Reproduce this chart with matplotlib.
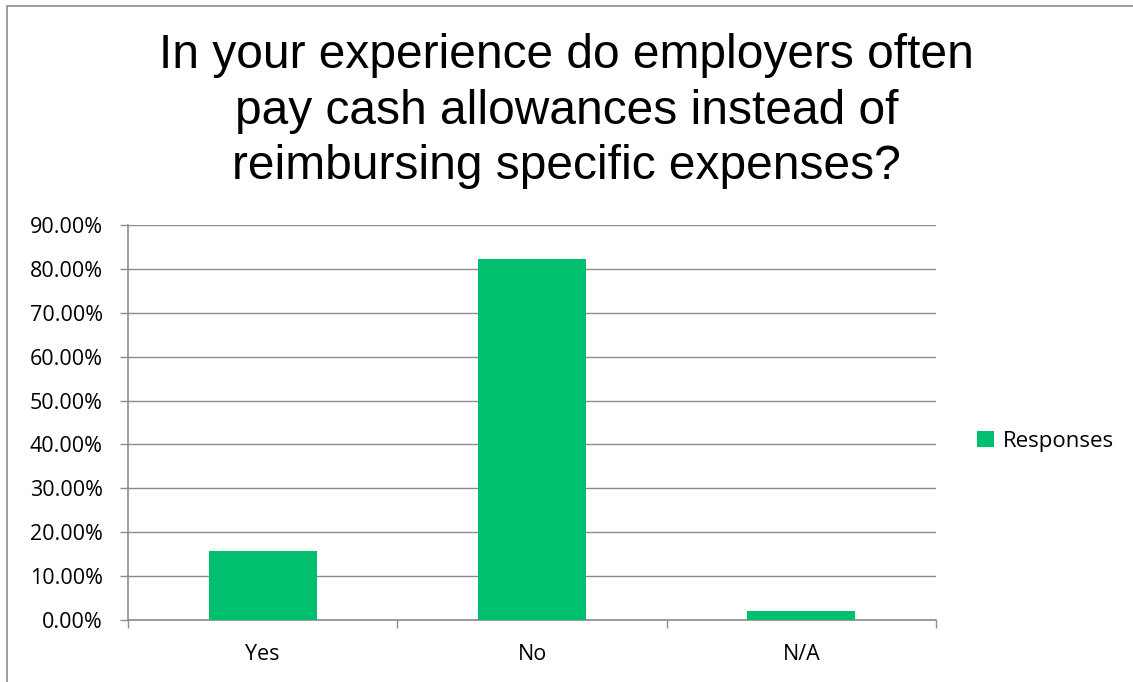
import matplotlib.pyplot as plt
from matplotlib.patches import Rectangle
from matplotlib.ticker import FuncFormatter

categories = ['Yes', 'No', 'N/A']
responses = [15.69, 82.35, 1.96]
yticks = [0, 10, 20, 30, 40, 50, 60, 70, 80, 90]

bar_color = '#00BF6F'
grid_color = '#8C8C8C'
label_font = 'Open Sans'

fig = plt.figure(figsize=(11.33, 6.82), dpi=100)
ax = fig.add_axes([128/1133, 1 - 620/682, (936-128)/1133, (620-225)/682])

x = list(range(len(categories)))
ax.bar(x, responses, width=0.4, color=bar_color, label='Responses', zorder=3)

ax.set_xlim(-0.5, len(categories) - 0.5)
ax.set_ylim(0, 90)
ax.set_yticks(yticks)
ax.yaxis.set_major_formatter(FuncFormatter(lambda v, p: '%.2f%%' % v))
ax.grid(axis='y', color=grid_color, linewidth=1, zorder=0)

# category labels centred, tick marks at the boundaries
ax.set_xticks(x)
ax.set_xticklabels(categories, fontsize=15.5, family=label_font)
ax.set_xticks([-0.5, 0.5, 1.5, 2.5], minor=True)
ax.tick_params(axis='x', which='major', length=0, pad=17)
ax.tick_params(axis='x', which='minor', length=6, color=grid_color, width=1)
ax.tick_params(axis='y', length=6, color=grid_color, width=1, labelsize=15.5, pad=12)
for lbl in ax.get_yticklabels():
    lbl.set_family(label_font)

for side in ['top', 'right']:
    ax.spines[side].set_visible(False)
for side in ['left', 'bottom']:
    ax.spines[side].set_color(grid_color)
    ax.spines[side].set_linewidth(1.2)

fig.text(0.5, 1 - 111/682, 'In your experience do employers often\npay cash allowances instead of\nreimbursing specific expenses?',
         ha='center', va='center', fontsize=34.5, family='Liberation Sans', linespacing=1.3)

leg = fig.legend(loc='center left', bbox_to_anchor=(957/1133, 1 - 441/682), frameon=False,
                 handlelength=0.75, handleheight=0.75, handletextpad=0.4,
                 prop={'family': label_font, 'size': 16})

fig.patches.append(Rectangle((7/1133, -0.1), 1.2, 1.1 - 6/682, transform=fig.transFigure,
                             fill=False, edgecolor='#8C8C8C', linewidth=1.2))

fig.savefig('out.png', dpi=100)
